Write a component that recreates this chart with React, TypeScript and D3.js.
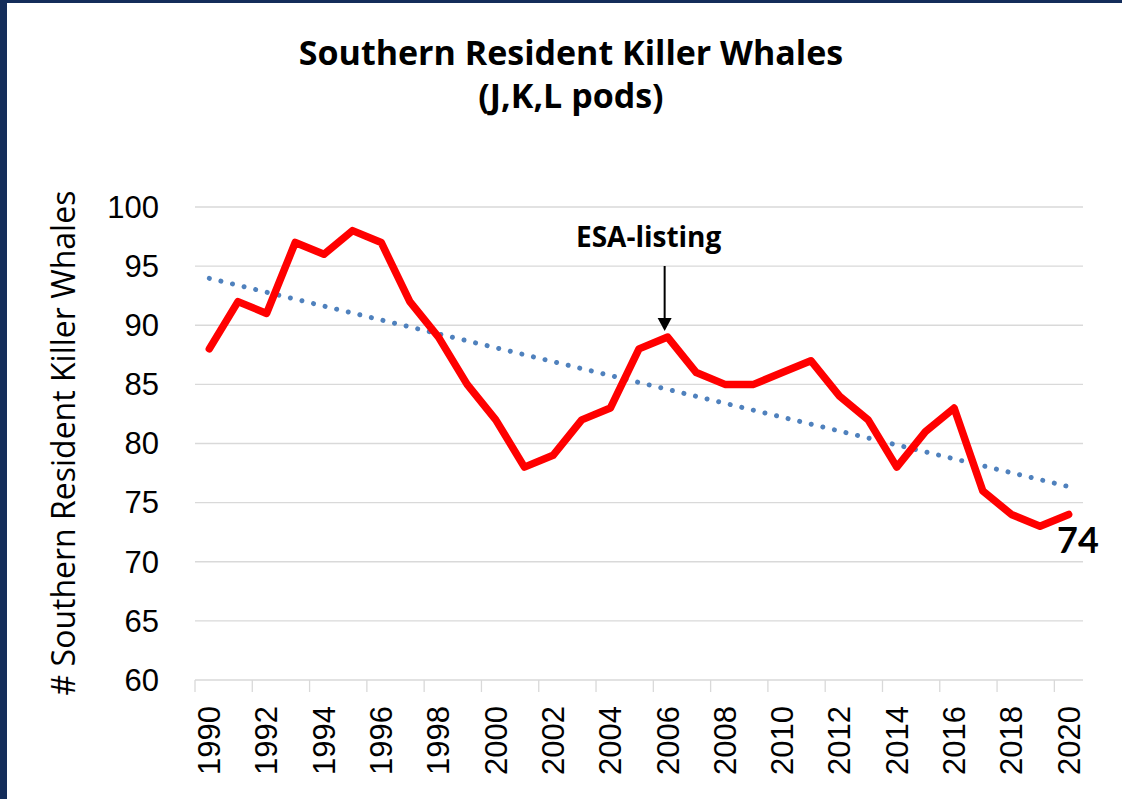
import * as React from 'react';
import * as d3 from 'd3';

const years: number[] = d3.range(1990, 2021);
const whales: number[] = [
  88, 92, 91, 97, 96, 98, 97, 92, 89, 85,
  82, 78, 79, 82, 83, 88, 89, 86, 85, 85,
  86, 87, 84, 82, 78, 81, 83, 76, 74, 73, 74,
];
const yTicks: number[] = [60, 65, 70, 75, 80, 85, 90, 95, 100];
const xTickYears: number[] = years.filter((y) => y % 2 === 0);

const chartTitle = ['Southern Resident Killer Whales', '(J,K,L pods)'];
const yTitle = '# Southern Resident Killer Whales';
const eventLabel = 'ESA-listing';
const eventYear = 2006;

const W = 1122;
const H = 799;

const App: React.FC = () => {
  const svgRef = React.useRef<SVGSVGElement>(null);

  React.useEffect(() => {
    const svg = d3.select(svgRef.current);
    svg.selectAll('*').remove();

    const left = 195, right = 1083, top = 207, bottom = 680;

    const x = d3.scaleBand<number>().domain(years).range([left, right]).padding(0);
    const y = d3.scaleLinear().domain([60, 100]).range([bottom, top]);
    const cx = (yr: number) => (x(yr) as number) + x.bandwidth() / 2;

    // frame
    svg.append('rect').attr('width', W).attr('height', H).attr('fill', '#fff');
    svg.append('rect').attr('width', W).attr('height', 3).attr('fill', '#142d5a');
    svg.append('rect').attr('width', 7).attr('height', H).attr('fill', '#142d5a');

    // title
    svg.append('g')
      .selectAll('text')
      .data(chartTitle)
      .enter()
      .append('text')
        .attr('x', 571)
        .attr('y', (d, i) => 65 + i * 43)
        .attr('text-anchor', 'middle')
        .attr('font-family', 'Open Sans, sans-serif')
        .attr('font-weight', 'bold')
        .attr('font-size', 34)
        .attr('fill', '#000')
        .text((d) => d);

    // gridlines
    svg.append('g')
      .selectAll('line')
      .data(yTicks)
      .enter()
      .append('line')
        .attr('x1', left)
        .attr('x2', right)
        .attr('y1', (d) => y(d))
        .attr('y2', (d) => y(d))
        .attr('stroke', '#d9d9d9')
        .attr('stroke-width', 1.3);

    // y labels
    svg.append('g')
      .selectAll('text')
      .data(yTicks)
      .enter()
      .append('text')
        .attr('x', 159)
        .attr('y', (d) => y(d))
        .attr('dy', '0.35em')
        .attr('text-anchor', 'end')
        .attr('font-family', 'Liberation Sans, Arial, sans-serif')
        .attr('font-size', 31)
        .attr('fill', '#000')
        .text((d) => d);

    // y title
    svg.append('text')
      .attr('transform', `translate(75, 443) rotate(-90)`)
      .attr('text-anchor', 'middle')
      .attr('font-family', 'Open Sans, sans-serif')
      .attr('font-size', 32)
      .attr('fill', '#000')
      .text(yTitle);

    // x ticks
    svg.append('g')
      .selectAll('line')
      .data(xTickYears)
      .enter()
      .append('line')
        .attr('x1', (d) => x(d) as number)
        .attr('x2', (d) => x(d) as number)
        .attr('y1', bottom)
        .attr('y2', bottom + 12)
        .attr('stroke', '#d9d9d9')
        .attr('stroke-width', 1.3);

    // x labels
    svg.append('g')
      .selectAll('text')
      .data(xTickYears)
      .enter()
      .append('text')
        .attr('transform', (d) => `translate(${cx(d)}, 706) rotate(-90)`)
        .attr('dy', '0.35em')
        .attr('text-anchor', 'end')
        .attr('font-family', 'Liberation Sans, Arial, sans-serif')
        .attr('font-size', 31)
        .attr('fill', '#000')
        .text((d) => d);

    // linear trend (least squares, like Excel's trendline)
    const n = years.length;
    const mx = d3.mean(years) as number;
    const my = d3.mean(whales) as number;
    const slope = d3.sum(years, (yr, i) => (yr - mx) * (whales[i] - my)) /
      d3.sum(years, (yr) => (yr - mx) * (yr - mx));
    const trend = [years[0], years[n - 1]].map((yr) => [cx(yr), y(my + slope * (yr - mx))] as [number, number]);

    svg.append('path')
      .attr('d', d3.line()(trend))
      .attr('fill', 'none')
      .attr('stroke', '#4f81bd')
      .attr('stroke-width', 5)
      .attr('stroke-linecap', 'round')
      .attr('stroke-dasharray', '0.01 11.9');

    // data line
    const line = d3.line<number>()
      .x((d, i) => cx(years[i]))
      .y((d) => y(d));

    svg.append('path')
      .attr('d', line(whales))
      .attr('fill', 'none')
      .attr('stroke', '#ff0000')
      .attr('stroke-width', 7.5)
      .attr('stroke-linejoin', 'round')
      .attr('stroke-linecap', 'round');

    // ESA-listing annotation
    const ex = cx(eventYear) - 3;
    const ey = y(whales[years.indexOf(eventYear)]);
    svg.append('text')
      .attr('x', ex - 16)
      .attr('y', 247)
      .attr('text-anchor', 'middle')
      .attr('font-family', 'Open Sans, sans-serif')
      .attr('font-weight', 'bold')
      .attr('font-size', 28)
      .attr('fill', '#000')
      .text(eventLabel);
    svg.append('line')
      .attr('x1', ex)
      .attr('x2', ex)
      .attr('y1', 266)
      .attr('y2', ey - 18)
      .attr('stroke', '#000')
      .attr('stroke-width', 2);
    svg.append('path')
      .attr('d', `M${ex - 7},${ey - 19} L${ex + 7},${ey - 19} L${ex},${ey - 6} Z`)
      .attr('fill', '#000');

    // last value label
    const last = whales[n - 1];
    svg.append('text')
      .attr('x', 1057)
      .attr('y', 553)
      .attr('font-family', 'Lato, sans-serif')
      .attr('font-weight', 'bold')
      .attr('font-size', 36)
      .attr('fill', '#000')
      .text(last);
  }, []);

  return (
    <svg ref={svgRef} width={W} height={H} style={{ position: 'absolute', left: 0, top: 0 }}></svg>
  );
};

export default App;
